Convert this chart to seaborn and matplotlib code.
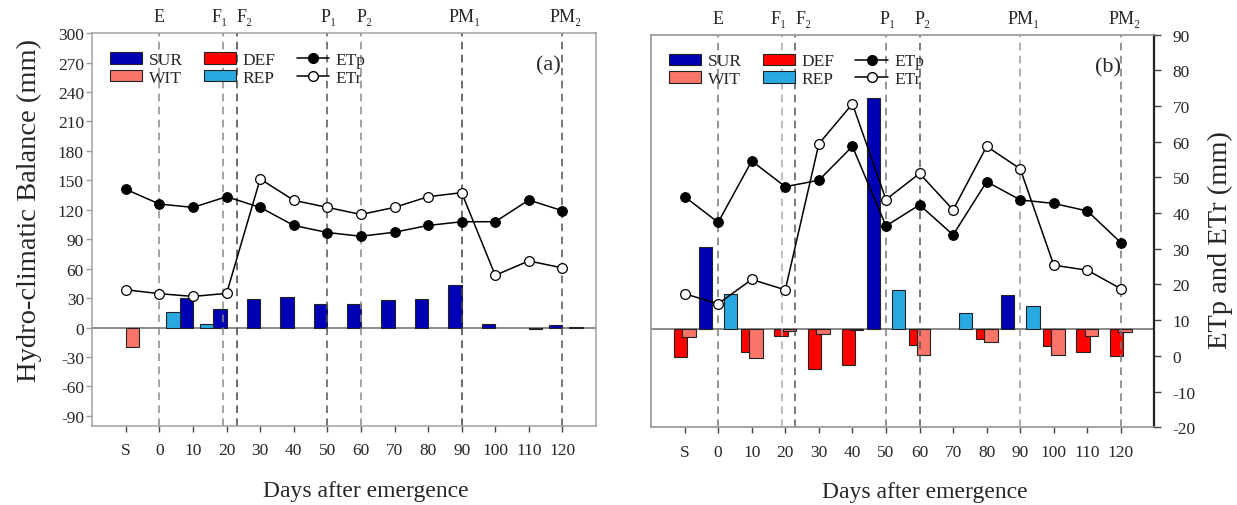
import matplotlib
matplotlib.use('Agg')
import matplotlib.pyplot as plt
import seaborn as sns
from matplotlib.patches import Patch
from matplotlib.lines import Line2D

sns.set_style('ticks')
plt.rcParams['font.family'] = ['Liberation Serif', 'DejaVu Serif']
plt.rcParams['font.size'] = 12.5
plt.rcParams['axes.unicode_minus'] = False

# ---- data ----
days = [-10, 0, 10, 20, 30, 40, 50, 60, 70, 80, 90, 100, 110, 120]
tick_labels = ['S', '0', '10', '20', '30', '40', '50', '60', '70', '80', '90', '100', '110', '120']
stage_days = [0, 19, 23, 50, 60, 90, 120]
stage_names = ['E', 'F₁', 'F₂', 'P₁', 'P₂', 'PM₁', 'PM₂']

# panel (a)
etp_a = [140.8, 125.8, 122.4, 133.3, 122.4, 104, 96.8, 93, 97.1, 104, 107.8, 107.8, 129.9, 119]
etr_a = [38.5, 34.5, 31.7, 34.8, 151.4, 129.6, 122.4, 115.2, 122.4, 133.3, 137.4, 53.2, 67.9, 60.7]
sur_a_days = [8, 18, 28, 38, 48, 58, 68, 78, 88, 98, 118, 124]
sur_a = [30.4, 19.1, 29, 31, 23.5, 23.5, 27.6, 29, 43.7, 3.4, 2.4, 0.8]
rep_a_days = [4, 14]
rep_a = [15.7, 4.1]
wit_a_days = [-8]
wit_a = [-20]
def_a_days = [112]
def_a = [-1.2]

# panel (b)
etp_b = [44.6, 37.4, 54.6, 47.4, 49.2, 58.7, 36.4, 42.3, 33.9, 48.8, 43.7, 42.7, 40.6, 31.7]
etr_b = [17.4, 14.6, 21.4, 18.5, 59.4, 70.6, 43.8, 51.1, 40.9, 58.7, 52.4, 25.4, 24.0, 18.8]
def_b_days = [-11.25, 8.75, 18.75, 28.75, 38.75, 58.75, 78.75, 98.75, 108.75, 118.75]
def_b = [-28.8, -23, -6.8, -41, -36.6, -16.3, -10.2, -16.9, -23.7, -27.1]
wit_b_days = [-8.75, 11.25, 21.25, 31.25, 41.25, 61.25, 81.25, 101.25, 111.25, 121.25]
wit_b = [-8.5, -29.1, -2, -5.4, -1, -26.5, -12.9, -26.5, -7.1, -3.4]
sur_b_days = [-3.75, 46.25, 86.25]
sur_b = [83.9, 235.5, 34.6]
rep_b_days = [3.75, 53.75, 73.75, 93.75]
rep_b = [35.3, 40, 16, 23.8]

# ---- styles ----
C_SUR = '#0000B4'
C_WIT = '#FA7569'
C_DEF = '#FF0000'
C_REP = '#29A9E1'
GREY = '#A0A0A0'
BAR_W = 4
stage_label_x = [0, 18, 25.5, 50.5, 61, 91, 121]
vline_cols_a = ['#8a8a8a', '#8a8a8a', '#444444', '#555555', '#8a8a8a', '#444444', '#555555']
vline_cols_b = ['#777777', '#aaaaaa', '#555555', '#777777', '#555555', '#999999', '#777777']

fig = plt.figure(figsize=(12.37, 5.06), dpi=100)
ax_a = fig.add_axes([0.0746, 0.1567, 0.4072, 0.776])
ax_b = fig.add_axes([0.5263, 0.1536, 0.4070, 0.776])
ax_b2 = ax_b.twinx()


def draw_bars(ax, sur, rep, wit, dfc):
    for (xs, ys, col) in [sur, rep, dfc, wit]:
        if xs:
            ax.bar(xs, ys, width=BAR_W, color=col, edgecolor='#222222',
                   linewidth=0.8, zorder=2)


def frame(ax, vcols):
    ax.set_xlim(-20, 130)
    ax.set_ylim(-100, 300)
    ax.set_xticks(days)
    ax.set_xticklabels(tick_labels)
    ax.tick_params(axis='x', direction='out', length=4, width=1, color='#444444', pad=8)
    ax.axhline(0, color='#777777', lw=1.2, zorder=1.5)
    for d, c in zip(stage_days, vcols):
        ax.axvline(d, color=c, ls=(0, (5, 3.5)), lw=1.1, zorder=2.5)
    for xl, name in zip(stage_label_x, stage_names):
        ax.text(xl, 1.02, name, transform=ax.get_xaxis_transform(), ha='center',
                va='bottom', fontsize=13)
    for sp in ax.spines.values():
        sp.set_color(GREY)
        sp.set_linewidth(1.1)
    ax.set_xlabel('Days after emergence', fontsize=17)
    ax.xaxis.set_label_coords(0.543, -0.138)


def draw_lines(ax, etp, etr):
    sns.lineplot(x=days, y=etp, ax=ax, color='black', lw=1.1, marker='o',
                 markersize=7, markerfacecolor='black', markeredgecolor='black', zorder=4)
    sns.lineplot(x=days, y=etr, ax=ax, color='black', lw=1.1, marker='o',
                 markersize=7, markerfacecolor='white', markeredgecolor='black',
                 markeredgewidth=0.9, zorder=4)


def add_legend(ax):
    handles = [
        Patch(facecolor=C_SUR, edgecolor='#222222', lw=0.8, label='SUR'),
        Patch(facecolor=C_WIT, edgecolor='#222222', lw=0.8, label='WIT'),
        Patch(facecolor=C_DEF, edgecolor='#222222', lw=0.8, label='DEF'),
        Patch(facecolor=C_REP, edgecolor='#222222', lw=0.8, label='REP'),
        Line2D([], [], color='black', lw=1.1, marker='o', markersize=7, label='ETp'),
        Line2D([], [], color='black', lw=1.1, marker='o', markersize=7,
               markerfacecolor='white', label='ETr'),
    ]
    ax.legend(handles=handles, ncol=3, loc='upper left', bbox_to_anchor=(0.035, 0.952),
              frameon=False, fontsize=12.5, handlelength=1.85, handleheight=0.65,
              handletextpad=0.4, columnspacing=1.2, labelspacing=0.1,
              borderpad=0, borderaxespad=0)


# ---- panel (a) ----
frame(ax_a, vline_cols_a)
draw_bars(ax_a, (sur_a_days, sur_a, C_SUR), (rep_a_days, rep_a, C_REP),
          (wit_a_days, wit_a, C_WIT), (def_a_days, def_a, C_DEF))
draw_lines(ax_a, etp_a, etr_a)
ax_a.set_yticks(range(-90, 301, 30))
ax_a.tick_params(axis='y', direction='out', length=4, width=1, color=GREY, pad=2)
ax_a.set_ylabel('Hydro-climatic Balance (mm)', fontsize=20.5)
ax_a.yaxis.set_label_coords(-0.10, 0.55)
ax_a.text(0.905, 0.918, '(a)', transform=ax_a.transAxes, ha='center', va='center', fontsize=16)
add_legend(ax_a)

# ---- panel (b) ----
frame(ax_b, vline_cols_b)
draw_bars(ax_b, (sur_b_days, sur_b, C_SUR), (rep_b_days, rep_b, C_REP),
          (wit_b_days, wit_b, C_WIT), (def_b_days, def_b, C_DEF))
ax_b.set_yticks([])
ax_b.set_ylabel('')

draw_lines(ax_b2, etp_b, etr_b)
ax_b2.set_ylim(-20, 90)
ax_b2.set_yticks(range(-20, 91, 10))
ax_b2.tick_params(axis='y', direction='out', length=5, width=1, color='#444444', pad=8)
for name, sp in ax_b2.spines.items():
    sp.set_color(GREY)
    sp.set_linewidth(1.1)
ax_b2.spines['right'].set_color('#222222')
ax_b2.spines['right'].set_linewidth(1.6)
ax_b2.set_ylabel('ETp and ETr (mm)', fontsize=20.5)
ax_b2.yaxis.set_label_coords(1.105, 0.48)
ax_b2.text(0.907, 0.918, '(b)', transform=ax_b2.transAxes, ha='center', va='center', fontsize=16)
add_legend(ax_b2)

fig.savefig('out.png', dpi=100)
